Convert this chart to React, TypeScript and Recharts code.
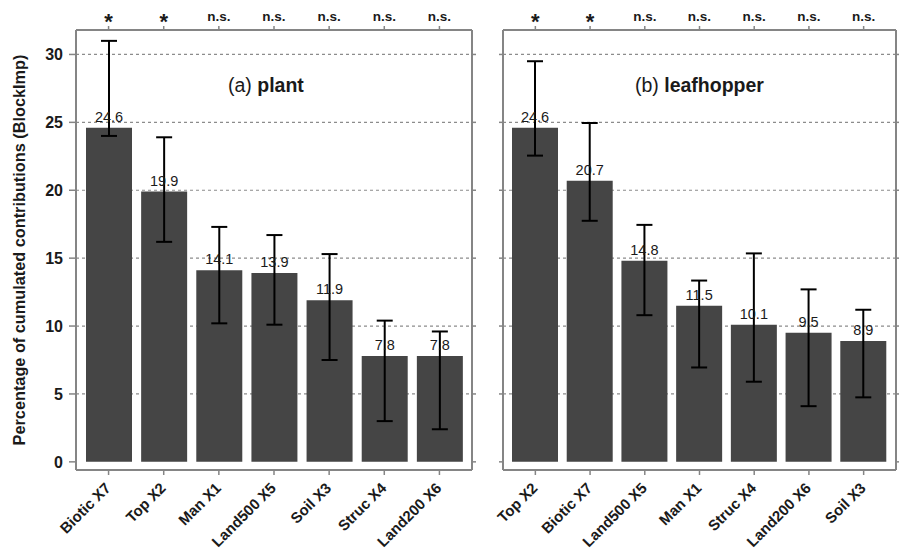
import { BarChart, Bar, XAxis, YAxis, CartesianGrid, ErrorBar, LabelList } from 'recharts'

const plantCats = ['Biotic X7', 'Top X2', 'Man X1', 'Land500 X5', 'Soil X3', 'Struc X4', 'Land200 X6']
const plantVals = [24.6, 19.9, 14.1, 13.9, 11.9, 7.8, 7.8]
const plantLow = [24.0, 16.2, 10.2, 10.1, 7.5, 3.0, 2.4]
const plantHigh = [31.0, 23.9, 17.3, 16.7, 15.3, 10.4, 9.6]
const plantSig = ['*', '*', 'n.s.', 'n.s.', 'n.s.', 'n.s.', 'n.s.']

const hopperCats = ['Top X2', 'Biotic X7', 'Land500 X5', 'Man X1', 'Struc X4', 'Land200 X6', 'Soil X3']
const hopperVals = [24.6, 20.7, 14.8, 11.5, 10.1, 9.5, 8.9]
const hopperLow = [22.55, 17.75, 10.8, 6.95, 5.9, 4.1, 4.75]
const hopperHigh = [29.5, 24.95, 17.45, 13.35, 15.35, 12.7, 11.2]
const hopperSig = ['*', '*', 'n.s.', 'n.s.', 'n.s.', 'n.s.', 'n.s.']

const yTicks = [0, 5, 10, 15, 20, 25, 30]
const gridValues = [5, 10, 15, 20, 25, 30]

const FONT = '"Liberation Sans", Arial, Helvetica, sans-serif'
const FRAME = '#858585'

function buildData(cats: string[], vals: number[], low: number[], high: number[], sig: string[]) {
  return cats.map((name, i) => ({
    name,
    value: vals[i],
    err: [+(vals[i] - low[i]).toFixed(2), +(high[i] - vals[i]).toFixed(2)],
    sig: sig[i],
  }))
}

const XTick = ({ x, y, payload }: any) => (
  <g transform={`translate(${x + 3},${y + 12}) rotate(-45)`}>
    <text x={0} y={0} textAnchor="end" fontSize={15} fontWeight="bold" fill="#1a1a1a" fontFamily={FONT}>
      {payload.value}
    </text>
  </g>
)

function Panel({
  cats, vals, low, high, sig, left, width, yWidth, rightWidth, showLabels,
}: {
  cats: string[]; vals: number[]; low: number[]; high: number[]; sig: string[]
  left: number; width: number; yWidth: number; rightWidth: number; showLabels: boolean
}) {
  const data = buildData(cats, vals, low, high, sig)
  const sigOf = (name: string) => sig[cats.indexOf(name)]

  const SigTick = ({ x, y, payload }: any) => {
    const s = sigOf(payload.value)
    if (s === '*') {
      return (
        <text x={x} y={y + 5} textAnchor="middle" fontSize={22} fontWeight="bold" fill="#1a1a1a" fontFamily={FONT}>*</text>
      )
    }
    return (
      <text x={x} y={y - 3.3} textAnchor="middle" fontSize={13.5} fontWeight="bold" fill="#1a1a1a" fontFamily={FONT}>{s}</text>
    )
  }

  return (
    <div style={{ position: 'absolute', left, top: 0 }}>
      <BarChart width={width} height={550} data={data} margin={{ top: 0, right: 0, bottom: 0, left: 0 }} barSize={46}>
        <CartesianGrid
          xAxisId="bottom"
          yAxisId="left"
          vertical={false}
          horizontalValues={gridValues}
          stroke="#8c8c8c"
          strokeDasharray="3 3"
          strokeWidth={1.2}
        />
        <XAxis
          dataKey="name"
          xAxisId="bottom"
          height={80}
          padding={{ left: 5, right: 5 }}
          axisLine={{ stroke: FRAME, strokeWidth: 2 }}
          tickLine={{ stroke: FRAME, strokeWidth: 1.5 }}
          tickSize={5}
          tick={<XTick />}
          interval={0}
        />
        <XAxis
          dataKey="name"
          xAxisId="top"
          orientation="top"
          height={30}
          padding={{ left: 5, right: 5 }}
          axisLine={{ stroke: FRAME, strokeWidth: 2 }}
          tickLine={{ stroke: FRAME, strokeWidth: 1.5 }}
          tickSize={4}
          tick={<SigTick />}
          interval={0}
        />
        <YAxis
          yAxisId="left"
          width={yWidth}
          domain={[-0.6, 31.8]}
          ticks={yTicks}
          allowDataOverflow
          axisLine={{ stroke: FRAME, strokeWidth: 2 }}
          tickLine={{ stroke: FRAME, strokeWidth: 1.5 }}
          tickSize={showLabels ? 7 : 4}
          tickMargin={6}
          tickFormatter={(v) => (showLabels ? String(v) : '')}
          tick={{ fontSize: 16, fontWeight: 'bold', fill: '#1a1a1a', fontFamily: FONT }}
        />
        <YAxis
          yAxisId="right"
          orientation="right"
          width={rightWidth}
          domain={[-0.6, 31.8]}
          ticks={yTicks}
          allowDataOverflow
          axisLine={{ stroke: FRAME, strokeWidth: 2 }}
          tickLine={{ stroke: FRAME, strokeWidth: 1.5 }}
          tickSize={4}
          tickFormatter={() => ''}
        />
        <Bar dataKey="value" xAxisId="bottom" yAxisId="left" fill="#454545" isAnimationActive={false}>
          <ErrorBar dataKey="err" width={8} stroke="#000" strokeWidth={2} direction="y" isAnimationActive={false} />
          <LabelList dataKey="value" position="top" offset={6} fontSize={14.5} fill="#1a1a1a" fontFamily={FONT} formatter={(v: any) => Number(v).toFixed(1)} />
        </Bar>
      </BarChart>
    </div>
  )
}

export default function App() {
  return (
    <div style={{ position: 'absolute', left: 0, top: 0, width: 899, height: 550, background: '#fff', overflow: 'hidden' }}>
      <Panel cats={plantCats} vals={plantVals} low={plantLow} high={plantHigh} sig={plantSig}
        left={0} width={480} yWidth={76} rightWidth={8} showLabels />
      <Panel cats={hopperCats} vals={hopperVals} low={hopperLow} high={hopperHigh} sig={hopperSig}
        left={480} width={419} yWidth={23} rightWidth={3} showLabels={false} />
      <svg width={899} height={550} style={{ position: 'absolute', left: 0, top: 0, pointerEvents: 'none' }}>
        <text
          x={25}
          y={250}
          transform="rotate(-90 25 250)"
          textAnchor="middle"
          fontSize={16.3}
          fontWeight="bold"
          fill="#1a1a1a"
          fontFamily={FONT}
        >
          Percentage of cumulated contributions (BlockImp)
        </text>
        <text x={228} y={92} fontSize={19.5} fill="#1a1a1a" fontFamily={FONT}>
          (a) <tspan fontWeight="bold">plant</tspan>
        </text>
        <text x={635} y={92} fontSize={19.5} fill="#1a1a1a" fontFamily={FONT}>
          (b) <tspan fontWeight="bold">leafhopper</tspan>
        </text>
      </svg>
    </div>
  )
}
